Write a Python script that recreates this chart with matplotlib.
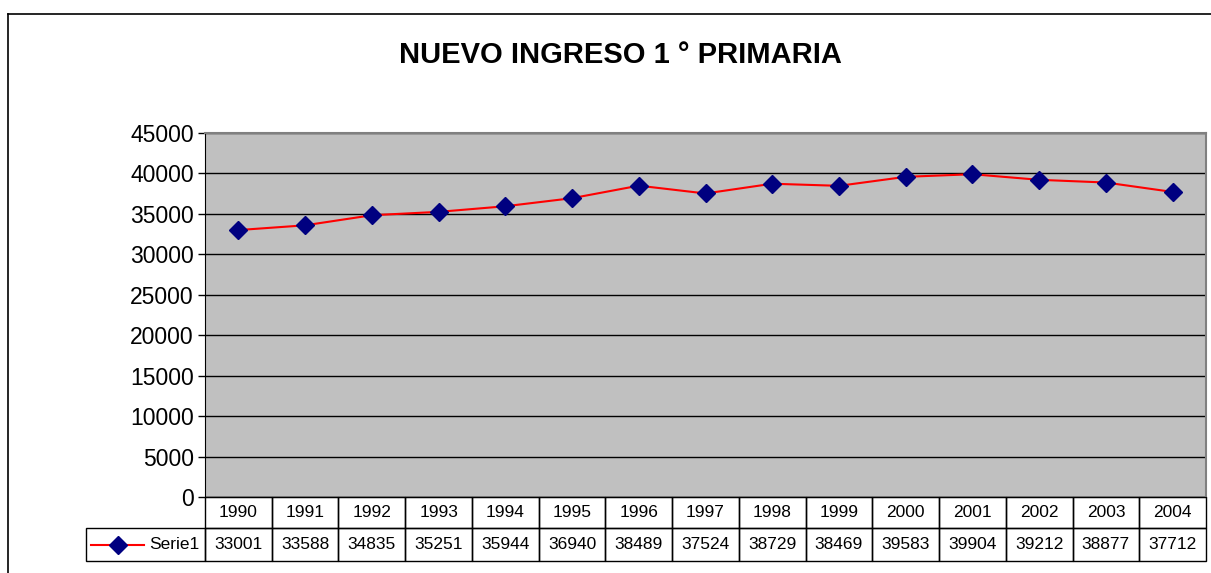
import matplotlib.pyplot as plt
from matplotlib.patches import Rectangle
from matplotlib.lines import Line2D
import matplotlib.transforms as mtransforms

# --- donnees ---
annees = ['1990', '1991', '1992', '1993', '1994', '1995', '1996', '1997',
          '1998', '1999', '2000', '2001', '2002', '2003', '2004']
serie1 = [33001, 33588, 34835, 35251, 35944, 36940, 38489, 37524,
          38729, 38469, 39583, 39904, 39212, 38877, 37712]
nom_serie = 'Serie1'
titre = 'NUEVO INGRESO 1 ° PRIMARIA'
yticks = list(range(0, 45001, 5000))

plt.rcParams['font.family'] = ['Liberation Sans', 'DejaVu Sans']

W, H = 1211, 573
fig = plt.figure(figsize=(W / 100, H / 100), dpi=100)
ax = fig.add_axes([205 / W, 76 / H, 1001 / W, 364 / H])
ax.set_facecolor('#C0C0C0')

x = list(range(len(annees)))
ax.plot(x, serie1, color='red', linewidth=1.5, marker='D', markersize=9,
        markerfacecolor='#000080', markeredgecolor='#000080', zorder=3)

ax.set_xlim(-0.5, len(annees) - 0.5)
ax.set_ylim(0, 45000)
ax.set_yticks(yticks)
ax.set_yticklabels([str(v) for v in yticks], fontsize=16.5)
ax.tick_params(axis='y', direction='out', length=5, width=1, pad=3)
ax.set_xticks([])
ax.grid(axis='y', color='black', linewidth=1)
ax.set_axisbelow(True)
for s in ['top', 'right']:
    ax.spines[s].set_color('#808080')
    ax.spines[s].set_linewidth(1.5)
ax.spines['left'].set_color('black')
ax.spines['bottom'].set_color('black')

# --- tableau de donnees sous le graphique ---
trans = mtransforms.blended_transform_factory(ax.transData, ax.transAxes)
h1 = 31 / 364
h2 = 33 / 364
leg_w = 119 / (1001 / len(annees))
for i, (a, v) in enumerate(zip(annees, serie1)):
    ax.add_patch(Rectangle((i - 0.5, -h1), 1, h1, transform=trans, fill=False,
                           edgecolor='black', linewidth=1, clip_on=False))
    ax.add_patch(Rectangle((i - 0.5, -h1 - h2), 1, h2, transform=trans, fill=False,
                           edgecolor='black', linewidth=1, clip_on=False))
    ax.text(i, -h1 / 2, a, transform=trans, ha='center', va='center',
            fontsize=12.5, clip_on=False)
    ax.text(i, -h1 - h2 / 2, str(v), transform=trans, ha='center', va='center',
            fontsize=12.5, clip_on=False)

# case de legende
ax.add_patch(Rectangle((-0.5 - leg_w, -h1 - h2), leg_w, h2, transform=trans,
                       fill=False, edgecolor='black', linewidth=1, clip_on=False))
yl = -h1 - h2 / 2
ax.add_line(Line2D([-0.5 - leg_w + 0.08, -0.5 - leg_w + 0.87], [yl, yl],
                   transform=trans, color='red', linewidth=1.5, clip_on=False))
ax.add_line(Line2D([-0.5 - leg_w + 0.475], [yl], transform=trans, marker='D',
                   markersize=9, color='#000080', clip_on=False))
ax.text(-0.5 - leg_w + 0.95, yl, nom_serie, transform=trans, ha='left',
        va='center', fontsize=12.5, clip_on=False)

fig.text(620 / W, 1 - 55 / H, titre, ha='center', va='center',
         fontsize=21, fontweight='bold')

# cadre exterieur
fig.add_artist(Line2D([8 / W, 8 / W], [0, 1 - 14 / H], color='black', linewidth=1.2))
fig.add_artist(Line2D([8 / W, 1], [1 - 14 / H, 1 - 14 / H], color='black', linewidth=1.2))

fig.savefig('out.png', dpi=100)
